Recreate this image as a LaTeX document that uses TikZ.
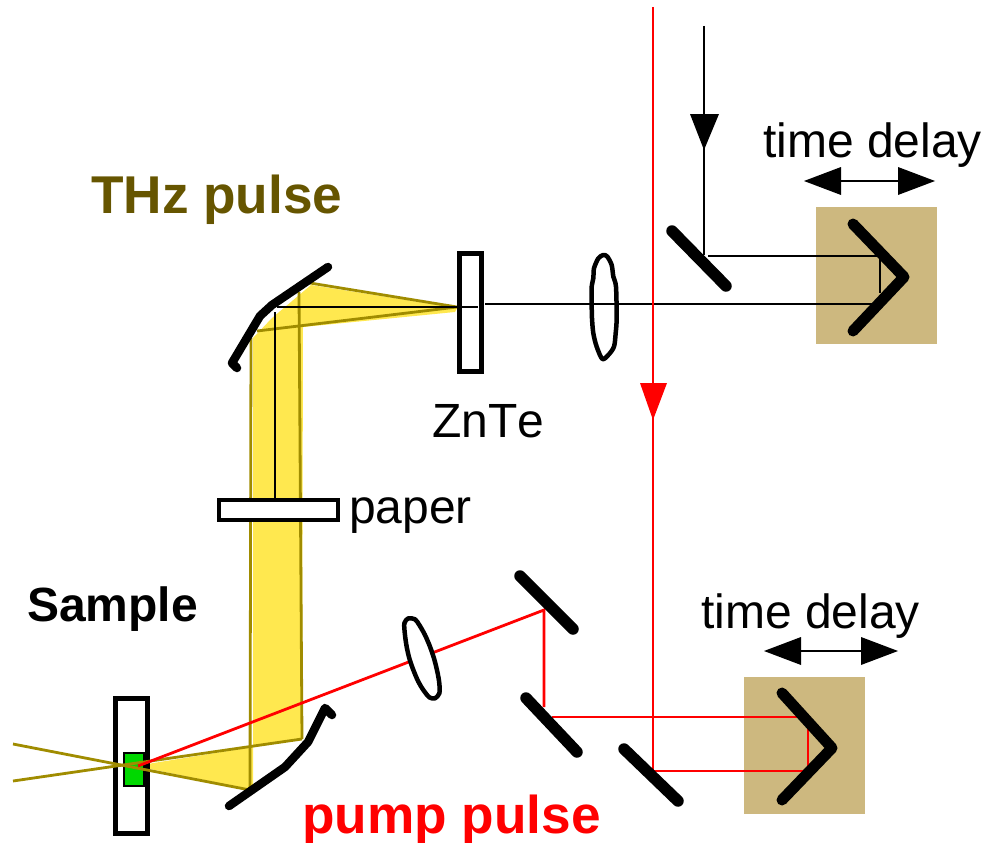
\documentclass[tikz,border=0pt]{standalone}
\usepackage{fontspec}
\setmainfont[Kerning=Off]{Liberation Sans}
\definecolor{beamyellow}{HTML}{FFE84F}
\definecolor{beamolive}{HTML}{A08C00}
\definecolor{stage}{HTML}{CDB87F}
\definecolor{thzlabel}{HTML}{665500}
\definecolor{samplegreen}{HTML}{00D800}
\tikzset{
  mirror/.style={line width=11.5pt,line cap=round,line join=round},
  retro/.style={line width=11pt,line cap=round,line join=round},
  curvedmirror/.style={line width=8.5pt,line cap=round,line join=round},
  thin beam/.style={line width=2.5pt,black},
  red beam/.style={line width=2.8pt,red},
  olive beam/.style={line width=2.8pt,beamolive},
  holder/.style={draw=black,line width=5pt},
  lens/.style={draw=black,line width=4.5pt,line join=round},
  label/.style={inner sep=0pt,anchor=base west,font=\fontsize{48}{50}\selectfont},
  bold label/.style={inner sep=0pt,anchor=base west,font=\fontsize{53.2}{56}\selectfont\bfseries},
  head/.style={fill,draw=none}
}
\begin{document}
\begin{tikzpicture}[x=1pt,y=-1pt]
\useasboundingbox (0,0) rectangle (983,843);
% stages
\fill[stage] (816,207) rectangle (937,344);
\fill[stage] (744,677) rectangle (865,814);
% THz beam
\fill[beamyellow] (311,285) -- (457,308) -- (455,312) -- (303,327) -- (302,739) -- (135,766) -- (249,789) -- (253,789) -- (253,338) -- (272,318) -- cycle;
% coordinates
\coordinate (zf) at (457,307);
\coordinate (um) at (277,307);
\coordinate (tiptop) at (310,283);
\coordinate (lowtop) at (257,331);
\coordinate (lr) at (302,739);
\coordinate (ll) at (250,790);
% sample
\draw[holder] (115,698) rectangle (147,833);
\draw[black,line width=2pt,fill=samplegreen] (124,753) rectangle (144,786);
% olive edges
\draw[olive beam] (tiptop) -- (zf) -- (lowtop);
\draw[olive beam] (251,338) -- (ll);
\draw[olive beam] (299,292) -- (lr);
\draw[olive beam] (13,744) -- (ll);
\draw[olive beam] (13,781) -- (lr);
% ZnTe
\draw[holder] (459,253) rectangle (481,371);
% upper lens
\begin{scope}[shift={(570,190)},x=0.3333pt,y=-0.3333pt]
\draw[lens] plot[smooth cycle,tension=0.5] coordinates {(100,195) (85,205) (72,235) (70,265) (65,290) (65,340) (66,385) (70,430) (80,470) (97,507) (115,495) (132,470) (137,430) (140,385) (138,290) (130,260) (125,225) (112,200)};
\end{scope}
% black beams
\coordinate (probeTop) at (704,26);
\coordinate (bs) at (704,255);
\coordinate (ret1) at (880,256);
\coordinate (ret2) at (880,293);
\draw[thin beam] (probeTop) -- (bs);
\draw[thin beam] (708,256) -- (ret1) -- (ret2);
\draw[thin beam] (um) -- (478,307);
\draw[thin beam] (485,304) -- (872,304);
\draw[thin beam] (275,312) -- (275,499);
\fill[head,black] (690,114) -- (719,114) -- (704,150) -- cycle;
% paper
\draw[draw=black,line width=4.5pt,fill=white] (219,500) rectangle (338,520);
% red beams
\coordinate (redTop) at (653,7);
\coordinate (redCorner) at (653,771);
\coordinate (r1) at (808,771);
\coordinate (r2) at (808,722);
\coordinate (r3) at (806,717);
\coordinate (r4) at (552,717);
\coordinate (r5) at (544,707);
\coordinate (r6) at (544,610);
\coordinate (r7) at (138,766);
\draw[red beam] (redTop) -- (redCorner) -- (r1);
\draw[red beam] (808,774) -- (r2);
\draw[red beam] (r3) -- (r4);
\draw[red beam] (r5) -- (r6) -- (r7);
\fill[head,red] (640,383) -- (667,383) -- (653,420) -- cycle;
% lower lens (opaque, hides the red beam)
\begin{scope}[shift={(380,600)},x=0.3333pt,y=-0.3333pt]
\draw[lens,fill=white] plot[smooth cycle,tension=0.5] coordinates {(85,55) (73,70) (75,105) (80,140) (88,175) (100,210) (115,245) (130,270) (148,292) (165,295) (178,280) (178,250) (172,215) (162,175) (150,140) (135,105) (118,75) (105,58)};
\end{scope}
% mirrors
\draw[mirror] (672,231) -- (726,286);
\draw[retro] (853,224) -- (904,277) -- (853,331);
\draw[mirror] (520,576) -- (573,629);
\draw[mirror] (526,698) -- (577,752);
\draw[mirror] (624,749) -- (678,801);
\draw[retro] (782,693) -- (832,748) -- (782,800);
\draw[curvedmirror] (328,267) -- (272,305) -- (260,316) -- (232,363) -- (237,368);
\draw[curvedmirror] (229,806) -- (285,767) -- (308,742) -- (325,708) -- (332,715);
% delay arrows
\draw[thin beam] (830,181) -- (910,181);
\fill[head,black] (804,181) -- (841,167) -- (841,195) -- cycle;
\fill[head,black] (935,181) -- (898,167) -- (898,195) -- cycle;
\draw[thin beam] (790,651) -- (870,651);
\fill[head,black] (764,651) -- (801,637) -- (801,665) -- cycle;
\fill[head,black] (898,651) -- (861,637) -- (861,665) -- cycle;
% labels
\node[label] (t1) at (763,157) {time delay};
\node[label] (t2) at (701,628) {time delay};
\node[label] (t3) at (432,437) {ZnTe};
\node[label] (t4) at (349,523) {paper};
\node[bold label,text=thzlabel] (t5) at (91,213) {THz pulse};
\node[bold label,text=red] (t6) at (302,833) {pump pulse};
\node[label,font=\fontsize{48}{50}\selectfont\bfseries] (t7) at (27,621) {Sample};
\end{tikzpicture}
\end{document}
